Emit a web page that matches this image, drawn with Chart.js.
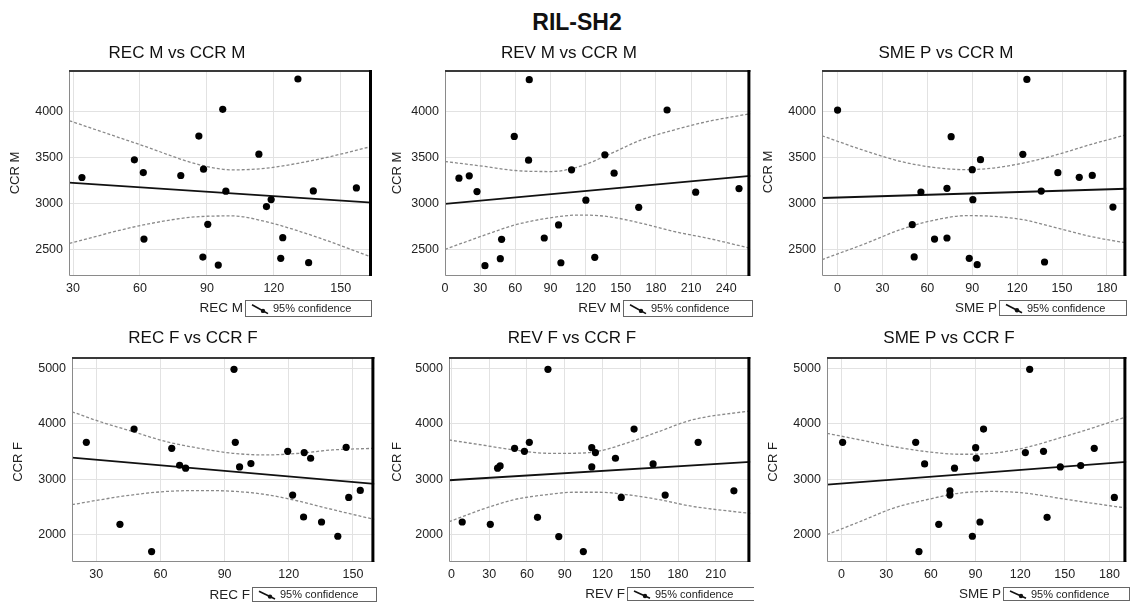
<!DOCTYPE html>
<html>
<head>
<meta charset="utf-8">
<script src="https://cdn.jsdelivr.net/npm/chart.js@4/dist/chart.umd.min.js"></script>
<style>
html,body{margin:0;padding:0;background:#fff;width:1130px;height:603px;overflow:hidden;}
#mainTitle{position:absolute;left:477px;top:9px;width:200px;text-align:center;font:bold 23px "Liberation Sans",Arial,sans-serif;line-height:26px;color:#111;}
canvas{position:absolute;}
</style>
</head>
<body>
<div id="mainTitle">RIL-SH2</div>
<canvas id="c1"></canvas><canvas id="c2"></canvas><canvas id="c3"></canvas>
<canvas id="c4"></canvas><canvas id="c5"></canvas><canvas id="c6"></canvas>
<script>
// ---------- DATA ----------
const titles = ["REC M vs CCR M","REV M vs CCR M","SME P vs CCR M","REC F vs CCR F","REV F vs CCR F","SME P vs CCR F"];
const xNames = ["REC M","REV M","SME P","REC F","REV F","SME P"];
const yNames = ["CCR M","CCR M","CCR M","CCR F","CCR F","CCR F"];
const legendLabel = "95% confidence";

// tick labels
const xTicks_recM = [30,60,90,120,150];
const xTicks_revM = [0,30,60,90,120,150,180,210,240];
const xTicks_smeP = [0,30,60,90,120,150,180];
const xTicks_recF = [30,60,90,120,150];
const xTicks_revF = [0,30,60,90,120,150,180,210];
const yTicks_ccrM = [2500,3000,3500,4000];
const yTicks_ccrF = [2000,3000,4000,5000];

// Panel 1: REC M vs CCR M
const recM      = [34.0,57.5,61.5,61.8,78.3,86.4,88.5,88.2,90.4,95.1,97.1,98.5,113.3,116.7,118.8,124.0,123.1,130.8,135.6,137.7,157.0];
const ccrM_recM = [3281,3473,3335,2612,3303,3731,3372,2416,2772,2329,4022,3132,3535,2965,3041,2627,2402,4352,2355,3135,3168];
const fitX_recM = [28.2,164];
const fitY_recM = [3226,3008];
const bandX_recM = [28.4,61.5,86.7,101.6,116.4,138.7,164];
const up_recM    = [3898,3626,3419,3364,3382,3473,3619];
const lo_recM    = [2565,2765,2856,2863,2801,2638,2413];

// Panel 2: REV M vs CCR M
const revM      = [11.9,20.7,27.3,34.1,47.2,48.3,59.1,71.9,71.3,84.7,96.9,98.9,108,120.2,127.8,136.4,144.3,165.3,189.5,213.9,250.9];
const ccrM_revM = [3274,3299,3128,2322,2398,2609,3728,4345,3470,2623,2765,2354,3364,3034,2413,3528,3328,2957,4015,3121,3161];
const fitX_revM = [0,260.6];
const fitY_revM = [2994,3299];
const bandX_revM = [0,34.1,59.7,90.9,115,139.2,167.7,196,224.5,260.6];
const up_revM    = [3455,3401,3357,3346,3401,3528,3691,3800,3891,3975];
const lo_revM    = [2500,2656,2765,2845,2873,2856,2783,2692,2620,2511];

// Panel 3: SME P vs CCR M
const smeP_M    = [0,49.9,51.2,55.7,64.8,73.1,73.1,75.9,88.0,90.0,90.4,93.3,95.5,123.8,126.5,136.1,138.3,147.2,161.5,170.2,184];
const ccrM_smeP = [4014,2768,2417,3123,2612,3163,2623,3725,2402,3366,3040,2333,3475,3533,4348,3134,2362,3333,3283,3304,2960];
const fitX_smeP_M = [-10.4,193];
const fitY_smeP_M = [3058,3159];
const bandX_smeP_M = [-10.4,19.6,41.9,64,86.4,104,124,146.5,168.8,193];
const up_smeP_M    = [3735,3565,3457,3391,3366,3384,3438,3529,3638,3746];
const lo_smeP_M    = [2388,2569,2714,2815,2866,2859,2822,2732,2641,2569];

// Panel 4: REC F vs CCR F
const recF      = [25.4,41.1,47.7,55.9,65.3,69.0,71.8,94.4,95.0,97.0,102.3,119.5,121.8,126.9,127.2,130.2,135.3,142.9,146.8,148.0,153.4];
const ccrF_recF = [3668,2186,3908,1694,3560,3254,3200,4988,3668,3224,3284,3506,2714,2318,3482,3380,2228,1970,3578,2672,2798];
const fitX_recF = [18.7,160];
const fitY_recF = [3392,2918];
const bandX_recF = [18.7,31.9,47.3,62.8,78.3,93.8,109.3,124.8,140.3,160];
const up_recF    = [4220,4040,3860,3680,3560,3470,3440,3470,3530,3560];
const lo_recF    = [2540,2630,2720,2780,2796,2784,2724,2604,2454,2274];

// Panel 5: REV F vs CCR F
const revF      = [8.6,30.9,36.7,38.7,50.2,58,61.9,68.4,76.7,85.3,104.8,111.5,111.5,114.4,130.3,134.9,145.1,160.2,169.8,196,224.4];
const ccrF_revF = [2228,2186,3200,3242,3560,3506,3668,2312,4988,1964,1694,3572,3224,3482,3380,2672,3908,3278,2714,3668,2792];
const fitX_revF = [-1.9,237.5];
const fitY_revF = [2982,3314];
const bandX_revF = [-1.9,24.2,50.2,76.2,97,117.8,138.6,164.6,190.6,237.5];
const up_revF    = [3710,3620,3530,3470,3470,3512,3650,3860,4070,4238];
const lo_revF    = [2232,2454,2634,2724,2766,2766,2724,2634,2514,2382];

// Panel 6: SME P vs CCR F
const smeP_F    = [0.7,49.8,52,55.8,65.3,72.8,72.8,75.9,87.9,90.1,90.5,93,95.4,123.5,126.4,135.7,138.1,147,160.7,169.8,183.3];
const ccrF_smeP = [3668,3668,1694,3278,2186,2792,2714,3200,1970,3572,3380,2228,3908,3482,4988,3506,2312,3224,3248,3560,2672];
const fitX_smeP_F = [-9.8,191.4];
const fitY_smeP_F = [2904,3314];
const bandX_smeP_F = [-9.8,12.8,35,57.1,79.3,101.4,123.5,145.7,167.8,191.4];
const up_smeP_F    = [3830,3710,3590,3500,3452,3470,3570,3740,3920,4130];
const lo_smeP_F    = [2000,2240,2480,2630,2750,2780,2750,2660,2570,2480];

// ---------- LAYOUT ----------
const FONT = '"Liberation Sans", Arial, sans-serif';
const panels = [
 {id:'c1', left:0,   top:35,  w:378, h:285, yw:69, xh:44, padTop:35, padRight:6,
  xs:recM, ys:ccrM_recM, fx:fitX_recM, fy:fitY_recM, bx:bandX_recM, up:up_recM, lo:lo_recM,
  xMin:28.2, xMax:164, yMin:2210, yMax:4450, xT:xTicks_recM, yT:yTicks_ccrM,
  tX:177, tY:53, yTX:15, yTY:173, xTR:243, xTY:308, box:[245,300,372,317]},
 {id:'c2', left:378, top:35,  w:376, h:285, yw:67, xh:44, padTop:35, padRight:2,
  xs:revM, ys:ccrM_revM, fx:fitX_revM, fy:fitY_revM, bx:bandX_revM, up:up_revM, lo:lo_revM,
  xMin:0, xMax:260.6, yMin:2210, yMax:4450, xT:xTicks_revM, yT:yTicks_ccrM,
  tX:569, tY:53, yTX:397, yTY:173, xTR:621, xTY:308, box:[623,300,753,317]},
 {id:'c3', left:754, top:35,  w:376, h:285, yw:68, xh:44, padTop:35, padRight:2,
  xs:smeP_M, ys:ccrM_smeP, fx:fitX_smeP_M, fy:fitY_smeP_M, bx:bandX_smeP_M, up:up_smeP_M, lo:lo_smeP_M,
  xMin:-10.4, xMax:193, yMin:2210, yMax:4450, xT:xTicks_smeP, yT:yTicks_ccrM,
  tX:946, tY:53, yTX:768, yTY:172, xTR:997, xTY:308, box:[999,300,1127,316]},
 {id:'c4', left:0,   top:320, w:378, h:283, yw:72, xh:41, padTop:37, padRight:1,
  xs:recF, ys:ccrF_recF, fx:fitX_recF, fy:fitY_recF, bx:bandX_recF, up:up_recF, lo:lo_recF,
  xMin:18.7, xMax:160, yMin:1505, yMax:5210, xT:xTicks_recF, yT:yTicks_ccrF,
  tX:193, tY:338, yTX:18, yTY:462, xTR:250, xTY:595, box:[252,587,377,602]},
 {id:'c5', left:378, top:320, w:376, h:283, yw:71, xh:41, padTop:37, padRight:1,
  xs:revF, ys:ccrF_revF, fx:fitX_revF, fy:fitY_revF, bx:bandX_revF, up:up_revF, lo:lo_revF,
  xMin:-1.9, xMax:237.5, yMin:1505, yMax:5210, xT:xTicks_revF, yT:yTicks_ccrF,
  tX:572, tY:338, yTX:397, yTY:462, xTR:625, xTY:594, box:[627,587,755,601]},
 {id:'c6', left:754, top:320, w:376, h:283, yw:73, xh:41, padTop:37, padRight:1,
  xs:smeP_F, ys:ccrF_smeP, fx:fitX_smeP_F, fy:fitY_smeP_F, bx:bandX_smeP_F, up:up_smeP_F, lo:lo_smeP_F,
  xMin:-9.8, xMax:191.4, yMin:1505, yMax:5210, xT:xTicks_smeP, yT:yTicks_ccrF,
  tX:949, tY:338, yTX:773, yTY:462, xTR:1001, xTY:594, box:[1003,587,1130,601]}
];

function pts(xs, ys){ return xs.map((x,i)=>({x:x, y:ys[i]})); }

panels.forEach((p, idx) => {
  const cv = document.getElementById(p.id);
  cv.width = p.w; cv.height = p.h;
  cv.style.left = p.left + 'px'; cv.style.top = p.top + 'px';
  cv.style.width = p.w + 'px'; cv.style.height = p.h + 'px';

  const deco = {
    id: 'deco' + idx,
    afterDraw(chart){
      const ctx = chart.ctx, a = chart.chartArea;
      const ox = p.left, oy = p.top;
      ctx.save();
      // frame
      ctx.strokeStyle = '#8a8a8a'; ctx.lineWidth = 1;
      ctx.beginPath();
      ctx.moveTo(a.left + 0.5, a.top); ctx.lineTo(a.left + 0.5, a.bottom - 0.5); ctx.lineTo(a.right, a.bottom - 0.5);
      ctx.stroke();
      ctx.strokeStyle = '#3a3a3a'; ctx.lineWidth = 2;
      ctx.beginPath(); ctx.moveTo(a.left, a.top + 1); ctx.lineTo(a.right, a.top + 1); ctx.stroke();
      ctx.strokeStyle = '#000'; ctx.lineWidth = 3;
      ctx.beginPath(); ctx.moveTo(a.right - 1.5, a.top); ctx.lineTo(a.right - 1.5, a.bottom); ctx.stroke();
      // panel title
      ctx.fillStyle = '#111'; ctx.textBaseline = 'middle';
      ctx.font = '17px ' + FONT; ctx.textAlign = 'center';
      ctx.fillText(titles[idx], p.tX - ox, p.tY - oy);
      // y title
      ctx.save();
      ctx.translate(p.yTX - ox, p.yTY - oy); ctx.rotate(-Math.PI/2);
      ctx.font = '13px ' + FONT; ctx.fillStyle = '#222';
      ctx.fillText(yNames[idx], 0, 0);
      ctx.restore();
      // x title
      ctx.font = '13.5px ' + FONT; ctx.fillStyle = '#222'; ctx.textAlign = 'right';
      ctx.fillText(xNames[idx], p.xTR - ox, p.xTY - oy);
      // legend box
      const [bl, bt, br, bb] = p.box;
      ctx.strokeStyle = '#666'; ctx.lineWidth = 1;
      ctx.strokeRect(bl - ox + 0.5, bt - oy + 0.5, br - bl - 1, bb - bt - 1);
      // icon
      const ix = bl - ox, iy = bt - oy, bh = bb - bt;
      ctx.strokeStyle = '#111'; ctx.lineWidth = 1.6;
      ctx.beginPath(); ctx.moveTo(ix + 7, iy + bh*0.28); ctx.lineTo(ix + 23, iy + bh*0.8); ctx.stroke();
      ctx.fillStyle = '#111';
      ctx.beginPath(); ctx.arc(ix + 18, iy + bh*0.64, 2.2, 0, Math.PI*2); ctx.fill();
      ctx.font = '11px ' + FONT; ctx.textAlign = 'left'; ctx.fillStyle = '#222';
      ctx.fillText(legendLabel, ix + 28, iy + bh/2 + 0.5);
      ctx.restore();
    }
  };

  new Chart(cv, {
    type: 'scatter',
    data: {
      datasets: [
        { data: pts(p.xs, p.ys), pointRadius: 3.6, pointHoverRadius: 3.6, backgroundColor: '#000', borderWidth: 0 },
        { data: pts(p.fx, p.fy), showLine: true, pointRadius: 0, borderColor: '#111', borderWidth: 1.8 },
        { data: pts(p.bx, p.up), showLine: true, pointRadius: 0, borderColor: '#8a8a8a', borderWidth: 1.3, borderDash: [3,2], cubicInterpolationMode: 'monotone' },
        { data: pts(p.bx, p.lo), showLine: true, pointRadius: 0, borderColor: '#8a8a8a', borderWidth: 1.3, borderDash: [3,2], cubicInterpolationMode: 'monotone' }
      ]
    },
    options: {
      responsive: false, maintainAspectRatio: false, animation: false,
      devicePixelRatio: 1,
      layout: { padding: { top: p.padTop, right: p.padRight, bottom: 0, left: 0 } },
      plugins: { legend: { display: false }, tooltip: { enabled: false }, title: { display: false } },
      scales: {
        x: {
          type: 'linear', min: p.xMin, max: p.xMax,
          afterBuildTicks: s => { s.ticks = p.xT.map(v => ({ value: v })); },
          afterFit: s => { s.height = p.xh; },
          grid: { color: '#e2e2e2', drawTicks: false, lineWidth: 1 },
          border: { display: false },
          ticks: { padding: 5, color: '#222', font: { family: FONT, size: 12.5 }, callback: v => String(v), maxRotation: 0, autoSkip: false }
        },
        y: {
          type: 'linear', min: p.yMin, max: p.yMax,
          afterBuildTicks: s => { s.ticks = p.yT.map(v => ({ value: v })); },
          afterFit: s => { s.width = p.yw; },
          grid: { color: '#e2e2e2', drawTicks: false, lineWidth: 1 },
          border: { display: false },
          ticks: { padding: 6, color: '#222', font: { family: FONT, size: 12.5 }, callback: v => String(v), autoSkip: false }
        }
      }
    },
    plugins: [deco]
  });
});
</script>
</body>
</html>
